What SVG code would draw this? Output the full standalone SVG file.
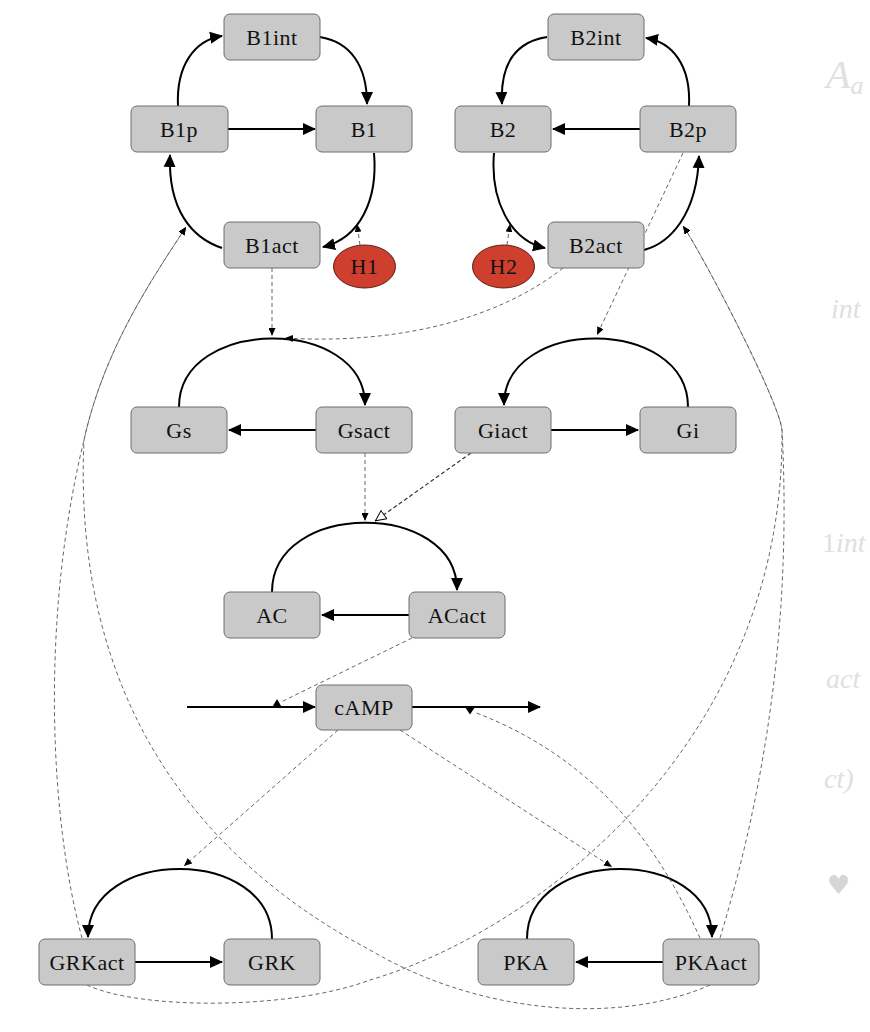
<svg xmlns="http://www.w3.org/2000/svg" width="870" height="1032" viewBox="0 0 870 1032">
<style>
.n rect{fill:#c9c9c9;stroke:#6e6e6e;stroke-width:1}
.n text,.h text{font-family:"Liberation Serif","DejaVu Serif",serif;font-size:22px;letter-spacing:0.5px;fill:#111;text-anchor:middle}
.h ellipse{fill:#cf3f2d;stroke:#5a1a12;stroke-width:1}
.s{fill:none;stroke:#000;stroke-width:2;marker-end:url(#ah)}
.d{fill:none;stroke:#555;stroke-width:0.9;stroke-dasharray:4 3;marker-end:url(#sa)}
.dn{fill:none;stroke:#555;stroke-width:0.9;stroke-dasharray:4 3}
.ghost{font-family:"Liberation Serif","DejaVu Serif",serif;font-style:italic;fill:#e0e0e0}
</style>
<defs>
<marker id="ah" viewBox="0 0 13 13" refX="12" refY="6.5" markerWidth="13" markerHeight="13" markerUnits="userSpaceOnUse" orient="auto"><path d="M0,0.5 L13,6.5 L0,12.5 z" fill="#000"/></marker>
<marker id="sa" viewBox="0 0 8 7" refX="8" refY="3.5" markerWidth="8" markerHeight="7" markerUnits="userSpaceOnUse" orient="auto"><path d="M0,0 L8,3.5 L0,7 z" fill="#000"/></marker>
<marker id="oa" viewBox="0 0 12 11" refX="11.5" refY="5.5" markerWidth="12" markerHeight="11" markerUnits="userSpaceOnUse" orient="auto"><path d="M0.5,0.5 L11,5.5 L0.5,10.5 z" fill="#fff" stroke="#000" stroke-width="1"/></marker>
</defs>
<rect width="870" height="1032" fill="#fff"/>

<g id="connectors">
<!-- B1 cycle -->
<path class="s" d="M178,106 C176,65 195,40 222,36"/>
<path class="s" d="M320,37 C350,42 367,65 367,104"/>
<path class="s" d="M374,153 C378,200 360,238 323,247"/>
<path class="s" d="M222,248 C192,238 168,210 170,155"/>
<path class="s" d="M228,129 L315,129"/>
<!-- B2 cycle -->
<path class="s" d="M547,37 C515,42 500,65 502,104"/>
<path class="s" d="M689,106 C691,65 672,42 646,38"/>
<path class="s" d="M494,153 C490,200 510,240 545,248"/>
<path class="s" d="M644,250 C670,243 697,215 699,156"/>
<path class="s" d="M640,129 L553,129"/>
<!-- G cycles -->
<path class="s" d="M179,407 C179,316 365,316 365,405"/>
<path class="s" d="M316,430 L229,430"/>
<path class="s" d="M688,407 C688,316 504,316 504,405"/>
<path class="s" d="M551,430 L638,430"/>
<!-- AC -->
<path class="s" d="M272,592 C272,500 457,500 457,590"/>
<path class="s" d="M409,615 L322,615"/>
<!-- cAMP -->
<path class="s" d="M187,707 L315,707"/>
<path class="s" d="M412,707 L540,707"/>
<!-- GRK -->
<path class="s" d="M272,939 C272,846 88,846 88,937"/>
<path class="s" d="M135,962 L222,962"/>
<!-- PKA -->
<path class="s" d="M527,939 C527,846 712,846 712,937"/>
<path class="s" d="M663,962 L576,962"/>

<!-- modifiers -->
<path class="d" d="M360,245 L357,224"/>
<path class="d" d="M507,245 L510,224"/>
<path class="d" d="M272,268 L272,336"/>
<path class="d" d="M563,268 C500,318 400,345 285,338"/>
<path class="d" d="M683,153 L597,335"/>
<path class="d" d="M365,453 L365,521"/>
<path d="M471,453 L375,521" fill="none" stroke="#333" stroke-width="1.2" stroke-dasharray="4 2.5" marker-end="url(#oa)"/>
<path class="dn" d="M412,638 L281,702"/>
<polygon points="272,707.5 282,707.5 277,699" fill="#000"/>
<path class="d" d="M338,730 L184,866"/>
<path class="d" d="M400,730 L612,867"/>
<path class="dn" d="M700,938 C660,850 600,760 474,712"/>
<polygon points="465,707 475,707 470,714.5" fill="#000"/>
<!-- long feedback lines -->
<path class="d" d="M82,938 C50,820 40,620 84,440 C104,350 150,282 186,227"/>
<path class="d" d="M710,985 C620,1025 480,1015 370,950 C200,860 72,700 84,440 C104,350 150,282 186,227"/>
<path class="d" d="M87,985 C140,1010 290,1010 370,980 C540,930 785,740 782,430 C779,400 700,250 683,226"/>
<path class="d" d="M720,938 C765,790 792,620 782,430 C779,400 700,250 683,226"/>
</g>

<g id="B1int" class="n"><rect x="224" y="14" width="96" height="46" rx="6"/><text x="272" y="45">B1int</text></g>
<g id="B1p" class="n"><rect x="131" y="106" width="97" height="46" rx="6"/><text x="179" y="137">B1p</text></g>
<g id="B1" class="n"><rect x="316" y="106" width="96" height="46" rx="6"/><text x="364" y="137">B1</text></g>
<g id="B1act" class="n"><rect x="224" y="222" width="96" height="46" rx="6"/><text x="272" y="253">B1act</text></g>
<g id="H1" class="h"><ellipse cx="364.5" cy="266.5" rx="31" ry="21.5"/><text x="364.5" y="274">H1</text></g>

<g id="B2int" class="n"><rect x="548" y="14" width="96" height="46" rx="6"/><text x="596" y="45">B2int</text></g>
<g id="B2" class="n"><rect x="455" y="106" width="96" height="46" rx="6"/><text x="503" y="137">B2</text></g>
<g id="B2p" class="n"><rect x="640" y="106" width="96" height="46" rx="6"/><text x="688" y="137">B2p</text></g>
<g id="B2act" class="n"><rect x="548" y="222" width="96" height="46" rx="6"/><text x="596" y="253">B2act</text></g>
<g id="H2" class="h"><ellipse cx="503.5" cy="266.5" rx="31" ry="21.5"/><text x="503.5" y="274">H2</text></g>

<g id="Gs" class="n"><rect x="131" y="407" width="96" height="46" rx="6"/><text x="179" y="438">Gs</text></g>
<g id="Gsact" class="n"><rect x="316" y="407" width="96" height="46" rx="6"/><text x="364" y="438">Gsact</text></g>
<g id="Giact" class="n"><rect x="455" y="407" width="96" height="46" rx="6"/><text x="503" y="438">Giact</text></g>
<g id="Gi" class="n"><rect x="640" y="407" width="96" height="46" rx="6"/><text x="688" y="438">Gi</text></g>

<g id="AC" class="n"><rect x="224" y="592" width="96" height="46" rx="6"/><text x="272" y="623">AC</text></g>
<g id="ACact" class="n"><rect x="409" y="592" width="96" height="46" rx="6"/><text x="457" y="623">ACact</text></g>

<g id="cAMP" class="n"><rect x="316" y="685" width="96" height="45" rx="6"/><text x="364" y="715">cAMP</text></g>

<g id="GRKact" class="n"><rect x="39" y="939" width="96" height="46" rx="6"/><text x="87" y="970">GRKact</text></g>
<g id="GRK" class="n"><rect x="224" y="939" width="96" height="46" rx="6"/><text x="272" y="970">GRK</text></g>
<g id="PKA" class="n"><rect x="478" y="939" width="96" height="46" rx="6"/><text x="526" y="970">PKA</text></g>
<g id="PKAact" class="n"><rect x="663" y="939" width="96" height="46" rx="6"/><text x="711" y="970">PKAact</text></g>

<g id="margin-bleed">
<text class="ghost" x="826" y="88" font-size="40">A<tspan font-size="26" dy="6">a</tspan></text>
<text class="ghost" x="831" y="318" font-size="28">int</text>
<text class="ghost" x="822" y="552" font-size="28"><tspan font-style="normal">1</tspan>int</text>
<text class="ghost" x="826" y="688" font-size="28">act</text>
<text class="ghost" x="824" y="788" font-size="28">ct)</text>
<text x="827" y="894" font-family="DejaVu Sans, sans-serif" font-size="26" fill="#d6d6d6">♥</text>
</g>
</svg>
